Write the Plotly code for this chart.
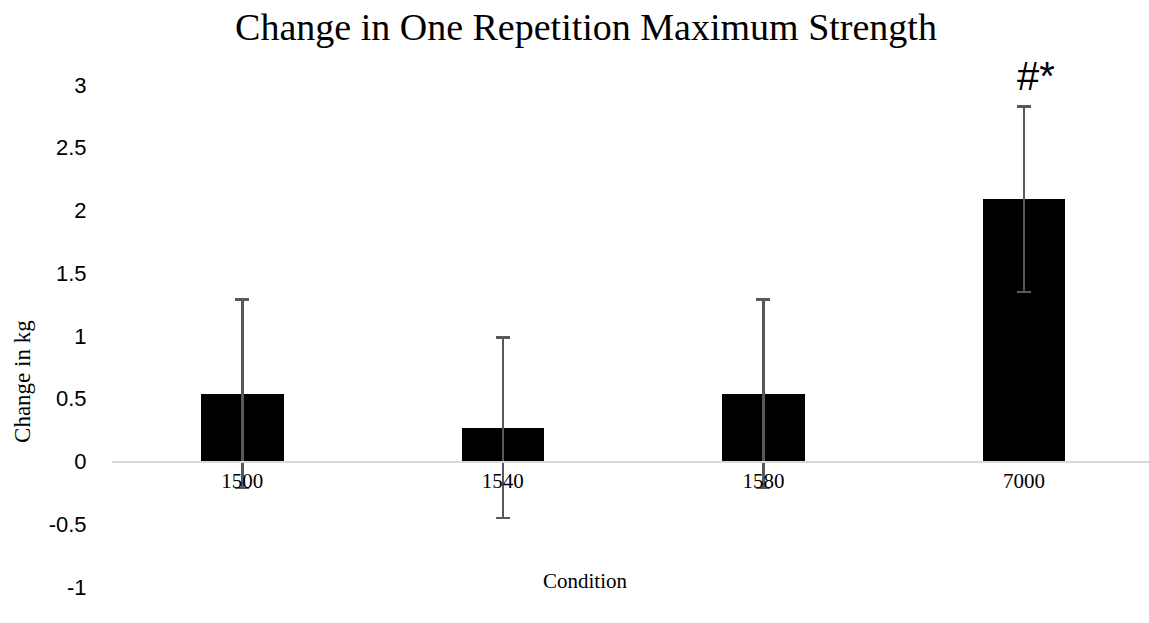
import plotly.graph_objects as go

categories = ["1500", "1540", "1580", "7000"]
values = [0.54, 0.27, 0.54, 2.09]
errors = [0.75, 0.72, 0.75, 0.74]
sig_labels = ["", "", "", "#*"]
y_ticks = [-1, -0.5, 0, 0.5, 1, 1.5, 2, 2.5, 3]

title_text = "Change in One Repetition Maximum Strength"
x_title = "Condition"
y_title = "Change in kg"

serif = "Liberation Serif, Times New Roman, serif"
sans = "Liberation Sans, Arial, sans-serif"

y_min, y_max = -1, 3

fig = go.Figure()
fig.add_trace(go.Bar(
    x=categories, y=values, width=0.317,
    marker=dict(color="black", line=dict(width=0)),
    error_y=dict(type="data", array=errors, visible=True,
                 color="#595959", thickness=2.5, width=7),
    showlegend=False,
))

for i, (v, e, s) in enumerate(zip(values, errors, sig_labels)):
    if s:
        fig.add_annotation(x=i, y=v + e, text=s, showarrow=False,
                           xshift=12, yshift=30,
                           font=dict(family=sans, size=40, color="black"))

fig.add_annotation(xref="paper", yref="paper", x=0.457, y=0.012,
                   text=x_title, showarrow=False, xanchor="center", yanchor="middle",
                   font=dict(family=serif, size=21, color="black"))
fig.add_annotation(xref="paper", yref="paper", x=-0.087, y=0.41,
                   text=y_title, showarrow=False, textangle=-90,
                   xanchor="center", yanchor="middle",
                   font=dict(family=serif, size=23, color="black"))

fig.update_layout(
    width=1149, height=623,
    margin=dict(l=112, r=0, t=85, b=36),
    paper_bgcolor="white", plot_bgcolor="white",
    title=dict(text=title_text, x=0.51, xanchor="center", y=0.957, yanchor="middle",
               font=dict(family=serif, size=38, color="black")),
    bargap=0,
    xaxis=dict(
        type="category", range=[-0.5, 3.48],
        showgrid=False, zeroline=False,
        showline=True, linecolor="#d9d9d9", linewidth=2,
        anchor="free", position=(0 - y_min) / (y_max - y_min),
        ticks="", tickfont=dict(family=serif, size=21, color="black"),
    ),
    yaxis=dict(
        range=[y_min, y_max], tickvals=y_ticks,
        ticktext=[f"{t:g}" for t in y_ticks],
        showgrid=False, zeroline=False, showline=False,
        ticks="outside", ticklen=20, tickcolor="rgba(0,0,0,0)",
        tickfont=dict(family=sans, size=22, color="black"),
    ),
)

fig.write_html("out.html")
